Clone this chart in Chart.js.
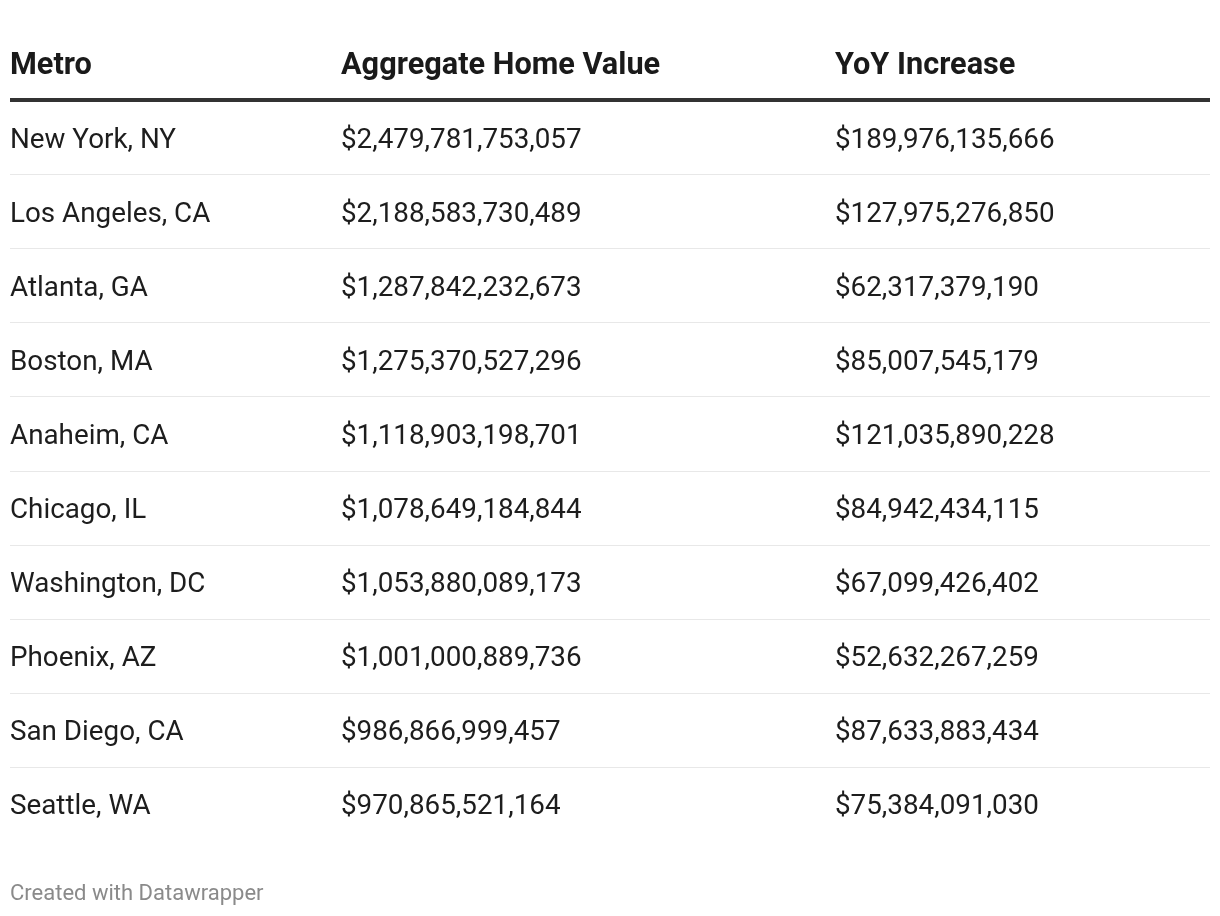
<!DOCTYPE html>
<html>
<head>
<meta charset="utf-8">
<script src="https://cdn.jsdelivr.net/npm/chart.js@4.4.1/dist/chart.umd.min.js"></script>
<style>
  html, body { margin: 0; padding: 0; background: #fff; }
  #wrap { width: 1220px; height: 916px; position: relative; }
</style>
</head>
<body>
<div id="wrap"><canvas id="table"></canvas></div>
<script>
// table data
var headers = ["Metro", "Aggregate Home Value", "YoY Increase"];
var metros = ["New York, NY", "Los Angeles, CA", "Atlanta, GA", "Boston, MA", "Anaheim, CA",
  "Chicago, IL", "Washington, DC", "Phoenix, AZ", "San Diego, CA", "Seattle, WA"];
var homeValue = [2479781753057, 2188583730489, 1287842232673, 1275370527296, 1118903198701,
  1078649184844, 1053880089173, 1001000889736, 986866999457, 970865521164];
var yoyIncrease = [189976135666, 127975276850, 62317379190, 85007545179, 121035890228,
  84942434115, 67099426402, 52632267259, 87633883434, 75384091030];
var footer = "Created with Datawrapper";

var colX = [0, 331, 825]; // column offsets along the hidden x scale

function money(v) {
  return "$" + v.toLocaleString("en-US");
}

var cells = [];
metros.forEach(function(m, i) {
  cells.push({ x: colX[0], y: i, text: m });
  cells.push({ x: colX[1], y: i, text: money(homeValue[i]) });
  cells.push({ x: colX[2], y: i, text: money(yoyIncrease[i]) });
});
var headCells = headers.map(function(h, j) { return { x: colX[j], y: -1, text: h }; });

var tablePlugin = {
  id: "tableText",
  beforeDatasetsDraw: function(chart) {
    var ctx = chart.ctx, xs = chart.scales.x, ys = chart.scales.y;
    var left = xs.getPixelForValue(0), right = xs.getPixelForValue(1200);
    ctx.save();
    // row separators
    ctx.fillStyle = "#e8e8e8";
    for (var i = 0; i < metros.length - 1; i++) {
      var yy = Math.round(ys.getPixelForValue(i + 0.5));
      ctx.fillRect(left, yy, right - left, 1);
    }
    // header rule
    ctx.fillStyle = "#333333";
    ctx.fillRect(left, Math.round(ys.getPixelForValue(-0.5)) - 2, right - left, 4);
    ctx.restore();
  },
  afterDatasetsDraw: function(chart) {
    var ctx = chart.ctx;
    ctx.save();
    ctx.textBaseline = "middle";
    ctx.textAlign = "left";
    chart.data.datasets.forEach(function(ds, di) {
      var meta = chart.getDatasetMeta(di);
      ctx.font = ds.head ? "bold 30.7px Roboto" : "27.8px Roboto";
      ctx.fillStyle = ds.head ? "#1a1a1a" : "#1d1d1d";
      meta.data.forEach(function(pt, k) {
        ctx.fillText(ds.data[k].text, pt.x, pt.y + 3.5);
      });
    });
    ctx.font = "22px Roboto";
    ctx.fillStyle = "#8a8a8a";
    ctx.fillText(footer, chart.scales.x.getPixelForValue(0), 894);
    ctx.restore();
  }
};

new Chart(document.getElementById("table"), {
  type: "scatter",
  data: {
    datasets: [
      { data: headCells, head: true, pointRadius: 0 },
      { data: cells, head: false, pointRadius: 0 }
    ]
  },
  options: {
    responsive: true,
    maintainAspectRatio: false,
    animation: false,
    events: [],
    layout: { padding: { left: 10, right: 10, top: 26, bottom: 75 } },
    plugins: { legend: { display: false }, tooltip: { enabled: false } },
    scales: {
      x: { type: "linear", min: 0, max: 1200, display: false },
      y: { type: "linear", min: -1.5, max: 9.5, reverse: true, display: false }
    }
  },
  plugins: [tablePlugin]
});
</script>
</body>
</html>
